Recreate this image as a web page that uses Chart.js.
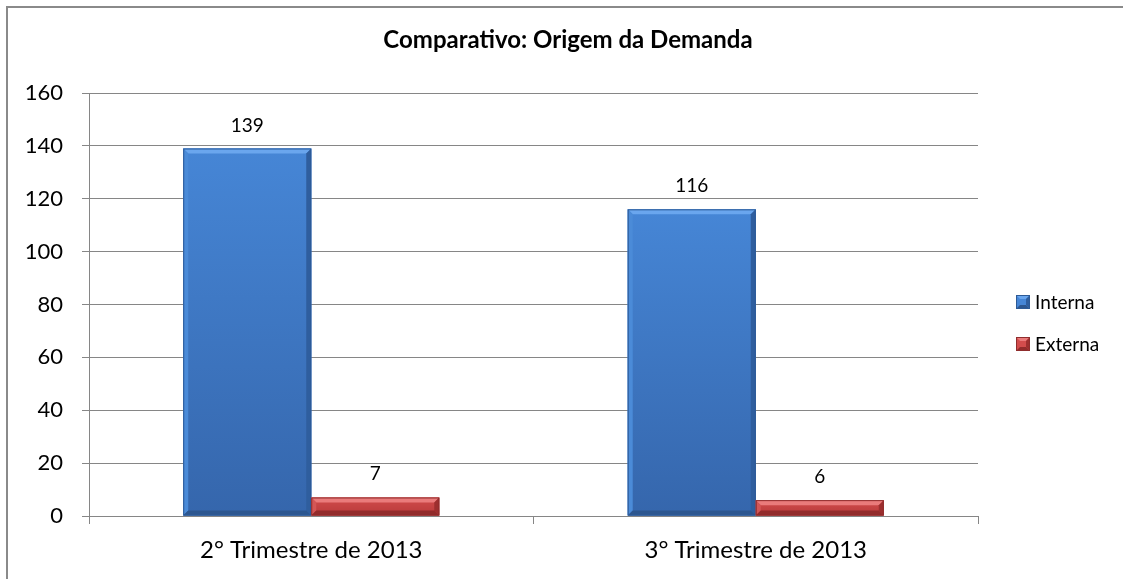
<!DOCTYPE html>
<html>
<head>
<meta charset="utf-8">
<script src="https://cdn.jsdelivr.net/npm/chart.js@4/dist/chart.umd.min.js"></script>
<style>
  html, body { margin: 0; padding: 0; background: #fff; }
  #wrap { width: 1123px; height: 579px; position: relative; }
</style>
</head>
<body>
<div id="wrap"><canvas id="c" width="1123" height="579"></canvas></div>
<script>
const chartTitle = "Comparativo: Origem da Demanda";
const categories = ["2° Trimestre de 2013", "3° Trimestre de 2013"];
const seriesNames = ["Interna", "Externa"];
const interna = [139, 116];
const externa = [7, 6];
const yMin = 0, yMax = 160, yStep = 20;

const palettes = [
  { base: '#3f7ccb', faceTop: '#4686d6', faceBot: '#3566ac', top: '#6aa6ee', left: '#4b8bd8', right: '#2f5e9e', bottom: '#2c568f', edge: '#2d5a96' },
  { base: '#c84444', faceTop: '#d24c4c', faceBot: '#b83a3a', top: '#ea7b7b', left: '#d35656', right: '#9d2f2f', bottom: '#922b2b', edge: '#8f2d2d' }
];

function poly(ctx, pts, color) {
  ctx.beginPath();
  ctx.moveTo(pts[0][0], pts[0][1]);
  for (let i = 1; i < pts.length; i++) ctx.lineTo(pts[i][0], pts[i][1]);
  ctx.closePath();
  ctx.fillStyle = color;
  ctx.fill();
}

const framePlugin = {
  id: 'frame',
  beforeDraw(chart) {
    const ctx = chart.ctx;
    ctx.save();
    ctx.fillStyle = '#fff';
    ctx.fillRect(0, 0, chart.width, chart.height);
    ctx.strokeStyle = '#8a8a8a';
    ctx.lineWidth = 2;
    ctx.beginPath();
    ctx.moveTo(7, chart.height + 2);
    ctx.lineTo(7, 7);
    ctx.lineTo(chart.width + 2, 7);
    ctx.stroke();
    // title
    ctx.fillStyle = '#000';
    ctx.font = 'bold 24px Lato';
    ctx.textAlign = 'center';
    ctx.textBaseline = 'alphabetic';
    ctx.fillText(chartTitle, 568, 48);
    ctx.restore();
  }
};

const bevelPlugin = {
  id: 'bevel',
  afterDatasetsDraw(chart) {
    const ctx = chart.ctx;
    ctx.save();
    chart.data.datasets.forEach((ds, i) => {
      const meta = chart.getDatasetMeta(i);
      const pal = palettes[i];
      meta.data.forEach((bar, j) => {
        const p = bar.getProps(['x', 'y', 'base', 'width'], true);
        const l = p.x - p.width / 2, r = p.x + p.width / 2, t = p.y, b = p.base;
        const h = b - t;
        const e = Math.min(5, h / 2);
        const g = ctx.createLinearGradient(0, t, 0, b);
        g.addColorStop(0, pal.faceTop);
        g.addColorStop(1, pal.faceBot);
        ctx.fillStyle = g;
        ctx.fillRect(l, t, p.width, h);
        poly(ctx, [[l, t], [r, t], [r - e, t + e], [l + e, t + e]], pal.top);
        poly(ctx, [[l, t], [l + e, t + e], [l + e, b - e], [l, b]], pal.left);
        poly(ctx, [[r, t], [r, b], [r - e, b - e], [r - e, t + e]], pal.right);
        poly(ctx, [[l, b], [l + e, b - e], [r - e, b - e], [r, b]], pal.bottom);
        ctx.strokeStyle = pal.edge;
        ctx.lineWidth = 1;
        ctx.strokeRect(l + 0.5, t + 0.5, p.width - 1, h - 1);
        // data label
        ctx.fillStyle = '#000';
        ctx.font = '19px Lato';
        ctx.textAlign = 'center';
        ctx.textBaseline = 'alphabetic';
        ctx.fillText(String(ds.data[j]), p.x, t - 17);
      });
    });
    ctx.restore();
  }
};

const legendPlugin = {
  id: 'customLegend',
  afterDraw(chart) {
    const ctx = chart.ctx;
    ctx.save();
    const ys = [302, 344];
    chart.data.datasets.forEach((ds, i) => {
      const pal = palettes[i];
      const cy = ys[i];
      const s = 14, l = 1016, t = cy - 7, r = l + s, b = t + s, e = 4;
      ctx.fillStyle = pal.faceTop;
      ctx.fillRect(l, t, s, s);
      poly(ctx, [[l, t], [r, t], [r - e, t + e], [l + e, t + e]], pal.top);
      poly(ctx, [[r, t], [r, b], [r - e, b - e], [r - e, t + e]], pal.right);
      poly(ctx, [[l, b], [l + e, b - e], [r - e, b - e], [r, b]], pal.bottom);
      ctx.strokeStyle = pal.edge;
      ctx.strokeRect(l + 0.5, t + 0.5, s - 1, s - 1);
      ctx.fillStyle = '#000';
      ctx.font = '19px Lato';
      ctx.textAlign = 'left';
      ctx.textBaseline = 'middle';
      ctx.fillText(ds.label, 1035, cy + 1);
    });
    ctx.restore();
  }
};

Chart.defaults.font.family = 'Lato';
Chart.defaults.color = '#000';

new Chart(document.getElementById('c'), {
  type: 'bar',
  data: {
    labels: categories,
    datasets: [
      { label: seriesNames[0], data: interna, backgroundColor: palettes[0].base, borderWidth: 0 },
      { label: seriesNames[1], data: externa, backgroundColor: palettes[1].base, borderWidth: 0 }
    ]
  },
  options: {
    responsive: false,
    animation: false,
    events: [],
    layout: { padding: { top: 93, right: 145, bottom: 0, left: 0 } },
    datasets: { bar: { categoryPercentage: 0.576, barPercentage: 1.0 } },
    plugins: {
      legend: { display: false },
      title: { display: false },
      tooltip: { enabled: false }
    },
    scales: {
      x: {
        afterFit(scale) { scale.height = 63; },
        grid: { display: true, drawOnChartArea: false, drawTicks: true, tickLength: 8, offset: true, color: '#868686', lineWidth: 1 },
        border: { display: true, color: '#868686', width: 1 },
        ticks: { font: { size: 24 }, color: '#000', padding: 12, maxRotation: 0 }
      },
      y: {
        min: yMin, max: yMax,
        afterFit(scale) { scale.width = 89; },
        grid: { display: true, drawTicks: true, tickLength: 7, color: '#868686', lineWidth: 1 },
        border: { display: true, color: '#868686', width: 1 },
        ticks: { stepSize: yStep, font: { size: 22 }, color: '#000', padding: 19 }
      }
    }
  },
  plugins: [framePlugin, bevelPlugin, legendPlugin]
});
</script>
</body>
</html>
